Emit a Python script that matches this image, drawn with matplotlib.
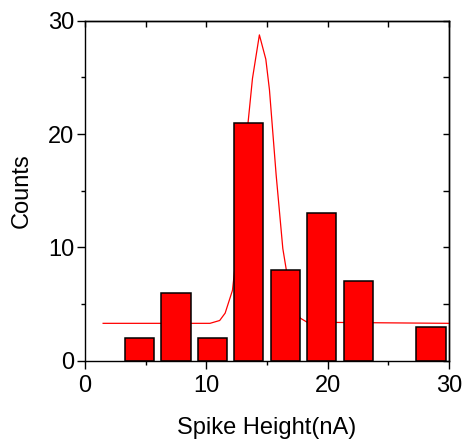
import numpy as np
import matplotlib
matplotlib.use("Agg")
import matplotlib.pyplot as plt

# histogram bins (bin centres, nA) and counts
bin_centers = [4.5, 7.5, 10.5, 13.5, 16.5, 19.5, 22.5, 25.5, 28.5]
counts = [2, 6, 2, 21, 8, 13, 7, 0, 3]

# gaussian fit curve, vertices
fit_x = [1.5, 10.3, 11.1, 11.55, 12.15, 12.7, 13.25, 13.8, 14.37, 14.9, 15.2,
         15.75, 16.3, 16.85, 17.4, 17.75, 18.3, 30.0]
fit_y = [3.3, 3.3, 3.55, 4.2, 6.2, 11.5, 19.0, 24.9, 28.75, 26.6, 23.9,
         16.4, 9.9, 6.3, 4.4, 3.75, 3.4, 3.3]


def plot():
    plt.rcParams['font.family'] = ['Liberation Sans', 'DejaVu Sans']
    fig = plt.figure(figsize=(4.64, 4.41), dpi=100)
    ax = fig.add_axes([0.183, 0.182, 0.785, 0.771])

    ax.plot(fit_x, fit_y, color='#ff0000', lw=0.9, zorder=1)
    # empty bins have no bar drawn
    xs = [c for c, n in zip(bin_centers, counts) if n > 0]
    ns = [n for n in counts if n > 0]
    ax.bar(xs, ns, width=2.4, color='#ff0000',
           edgecolor='black', linewidth=1.1, zorder=2)

    ax.set_xlim(0, 30)
    ax.set_ylim(0, 30)
    ax.set_xticks([0, 10, 20, 30])
    ax.set_yticks([0, 10, 20, 30])
    ax.set_xticks([5, 15, 25], minor=True)
    ax.set_yticks([5, 15, 25], minor=True)
    ax.tick_params(which='major', direction='out', length=6, width=1,
                   labelsize=17)
    ax.tick_params(which='minor', direction='out', length=3, width=1)
    ax.tick_params(axis='x', which='major', pad=4)
    ax.tick_params(axis='y', which='major', pad=1.5)

    # inward ticks on top and right
    top = ax.secondary_xaxis('top')
    top.set_xticks([0, 5, 10, 15, 20, 25, 30])
    top.tick_params(direction='in', length=4, width=1, labeltop=False)
    right = ax.secondary_yaxis('right')
    right.set_yticks([0, 5, 10, 15, 20, 25, 30])
    right.tick_params(direction='in', length=4, width=1, labelright=False)

    for s in list(ax.spines.values()) + [top.spines['top'], right.spines['right']]:
        s.set_linewidth(1)

    ax.set_xlabel('Spike Height(nA)', fontsize=17, labelpad=15)
    ax.set_ylabel('Counts', fontsize=17, labelpad=11)

    fig.savefig('out.png', dpi=100)


def main():
    plot()


if __name__ == "__main__":
    main()
